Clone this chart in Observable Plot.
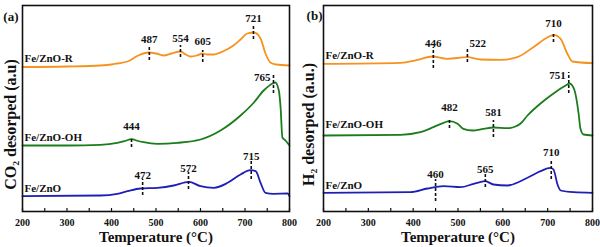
<!DOCTYPE html>
<html>
<head>
<meta charset="utf-8">
<script src="https://cdn.jsdelivr.net/npm/d3@7"></script>
<script src="https://cdn.jsdelivr.net/npm/@observablehq/plot@0.6"></script>
<style>
  html, body { margin: 0; padding: 0; background: #fff; }
  #wrap { display: flex; flex-direction: row; width: 600px; height: 247px; }
</style>
</head>
<body>
<div id="wrap"></div>
<script>
// ---------- Data (temperature in °C, intensity in a.u.) ----------
const xTicks = [200, 300, 400, 500, 600, 700, 800];
const xMinorTicks = [200, 250, 300, 350, 400, 450, 500, 550, 600, 650, 700, 750, 800];

// Panel (a): CO2-TPD
const tA_R  = [200,300,375,400,413,436,460,483,500,517,535,555,567,578,592,604,615,629,650,674,690,705,720,735,746,757,770,800];
const vA_R  = [144.5,145,146,147,148,150,156,159,158,156,158,160,157,155,156,158,157,157,160,166,172,178,179,173,158,149,147,146];
const tA_OH = [200,300,375,413,430,445,460,472,503,548,600,645,690,720,742,762,768,776,780,784,791,800];
const vA_OH = [66,66,66.7,68.7,70.5,72.3,70.5,69.3,67.7,68.7,72,81,96,109,121,128,129,121,104,74,71,66];
const tA_Z  = [200,375,413,436,465,503,540,574,600,630,661,690,712,724,735,746,764,796,800];
const vA_Z  = [15.3,16,17.7,20.3,23,23.7,26,29.7,25.3,23.7,28.7,37,41.3,40.3,28.7,18.7,17.7,18,15.3];

// Panel (b): H2-TPD
const tB_R  = [200,372,410,443,476,521,550,595,632,668,700,713,729,744,755,800];
const vB_R  = [147.7,148.7,151.7,155,152.7,154.3,152,151.7,154.3,164.3,174.3,176.7,172.7,157.7,150,148.3];
const tB_OH = [200,372,416,445,468,481,499,512,532,557,579,610,628,639,655,684,713,740,749,760,769,773,780,800];
const vB_OH = [76,76.7,79.3,84.3,88.7,90.3,87.7,82.7,81,82.7,84,83.3,85,87.7,96,108,118,126,128,121,98,83,77,76];
const tB_Z  = [200,394,432,468,506,535,561,579,610,655,684,706,713,722,729,758,800];
const vB_Z  = [18.7,19.3,23,25.3,24.3,27.7,30.3,27,26,33.7,40.3,43.7,42,27,21,19.3,18.7];

// Series names and colours
const seriesNames = ["Fe/ZnO-R", "Fe/ZnO-OH", "Fe/ZnO"];
const seriesColors = ["#f6921e", "#1b7c1b", "#1f1fb4"];
const labelLevelsA = [153, 74, 23];
const labelLevelsB = [156, 87, 26];

// Peak markers: drawn position, printed label, dashed span (top, bottom), label level
const peakPosA   = [485, 555, 605, 719, 764, 445, 470, 573, 714];
const peakTextA  = ["487", "554", "605", "721", "765", "444", "472", "572", "715"];
const peakTopA   = [165, 166, 161, 186, 138, 74, 32, 39, 50];
const peakBotA   = [151, 154, 149, 172, 118, 64, 16, 22, 32];
const peakLblA   = [172, 173, 170, 193, 134, 85, 36, 43, 55];
const peakSideA  = ["middle","middle","middle","middle","end","middle","middle","middle","middle"];

const peakPosB   = [445, 521, 713, 747, 481, 579, 450, 561, 708];
const peakTextB  = ["446", "522", "710", "751", "482", "581", "460", "565", "710"];
const peakTopB   = [164, 163, 178, 139, 93, 91, 32, 37, 52];
const peakBotB   = [143, 149, 169, 118, 83, 74, 10, 24, 32];
const peakLblB   = [168, 168, 188, 136, 104, 99, 37, 42, 59];
const peakSideB  = ["middle","start","middle","end","middle","middle","middle","middle","middle"];

const FONT = "'Liberation Serif', 'Times New Roman', serif";

function rows(ts, vs, name) { return ts.map((t, i) => ({T: t, v: vs[i], s: name})); }
function peaks(pos, txt, top, bot, lbl, side) {
  return pos.map((p, i) => ({p, txt: txt[i], top: top[i], bot: bot[i], lbl: lbl[i], side: side[i]}));
}

function panel(cfg) {
  const data = [
    ...rows(cfg.t[0], cfg.v[0], seriesNames[0]),
    ...rows(cfg.t[1], cfg.v[1], seriesNames[1]),
    ...rows(cfg.t[2], cfg.v[2], seriesNames[2])
  ];
  const pk = cfg.peaks;
  const names = seriesNames.map((n, i) => ({n, y: cfg.labelLevels[i]}));
  const frameH = 247 - 5 - 36;
  const txt = {fontFamily: FONT, fontWeight: "bold", fill: "#111"};
  const textStyle = {fontSize: 11, ...txt};
  return Plot.plot({
    width: 300,
    height: 247,
    marginLeft: cfg.ml,
    marginRight: cfg.mr,
    marginTop: 5,
    marginBottom: 36,
    style: {fontFamily: FONT, fontWeight: "bold", background: "#fff", color: "#111"},
    x: {domain: [200, 800], axis: null},
    y: {domain: [0, 206], axis: null},
    color: {domain: seriesNames, range: seriesColors},
    marks: [
      Plot.line(data, {x: "T", y: "v", z: "s", stroke: "s", strokeWidth: 1.8, curve: "monotone-x"}),
      Plot.ruleX(pk, {x: "p", y1: "bot", y2: "top", stroke: "#111", strokeWidth: 1.6, strokeDasharray: "3,2"}),
      Plot.text(pk.filter(d => d.side === "middle"), {x: "p", y: "lbl", text: "txt", textAnchor: "middle", ...textStyle}),
      Plot.text(pk.filter(d => d.side === "end"), {x: "p", y: "lbl", text: "txt", textAnchor: "end", dx: -3, ...textStyle}),
      Plot.text(pk.filter(d => d.side === "start"), {x: "p", y: "lbl", text: "txt", textAnchor: "start", dx: 2, ...textStyle}),
      Plot.text(names, {x: () => 200, y: "y", text: "n", textAnchor: "start", dx: 2, ...textStyle}),
      Plot.tickX(xMinorTicks, {x: d => d, stroke: "#111", strokeWidth: 1.2, insetTop: frameH - 3}),
      Plot.text(xTicks, {x: d => d, text: d => String(d), frameAnchor: "bottom", textAnchor: "middle", lineAnchor: "middle", dy: 11, fontSize: 10, ...txt}),
      Plot.frame({stroke: "#111", strokeWidth: 1.6}),
      Plot.text([cfg.xTitle], {frameAnchor: "bottom", textAnchor: "middle", lineAnchor: "middle", dy: 26, fontSize: 15, ...txt}),
      Plot.text([cfg.yTitle], {frameAnchor: "left", rotate: -90, textAnchor: "middle", lineAnchor: "middle", dx: cfg.yTitleDx, dy: 16, fontSize: 16, ...txt}),
      Plot.text([cfg.letter], {frameAnchor: "top-left", textAnchor: "end", lineAnchor: "middle", dx: cfg.letterDx, dy: cfg.letterDy, fontSize: 13, ...txt})
    ]
  });
}

const wrap = document.getElementById("wrap");
wrap.appendChild(panel({
  t: [tA_R, tA_OH, tA_Z], v: [vA_R, vA_OH, vA_Z],
  peaks: peaks(peakPosA, peakTextA, peakTopA, peakBotA, peakLblA, peakSideA),
  labelLevels: labelLevelsA,
  ml: 22, mr: 11,
  xTitle: "Temperature (°C)", yTitle: "CO₂ desorped (a.u)", yTitleDx: -12,
  letter: "(a)", letterDx: -4, letterDy: 11.5
}));
wrap.appendChild(panel({
  t: [tB_R, tB_OH, tB_Z], v: [vB_R, vB_OH, vB_Z],
  peaks: peaks(peakPosB, peakTextB, peakTopB, peakBotB, peakLblB, peakSideB),
  labelLevels: labelLevelsB,
  ml: 23, mr: 8,
  xTitle: "Temperature (°C)", yTitle: "H₂ desorped (a.u.)", yTitleDx: -15,
  letter: "(b)", letterDx: -1, letterDy: 10
}));
</script>
</body>
</html>
